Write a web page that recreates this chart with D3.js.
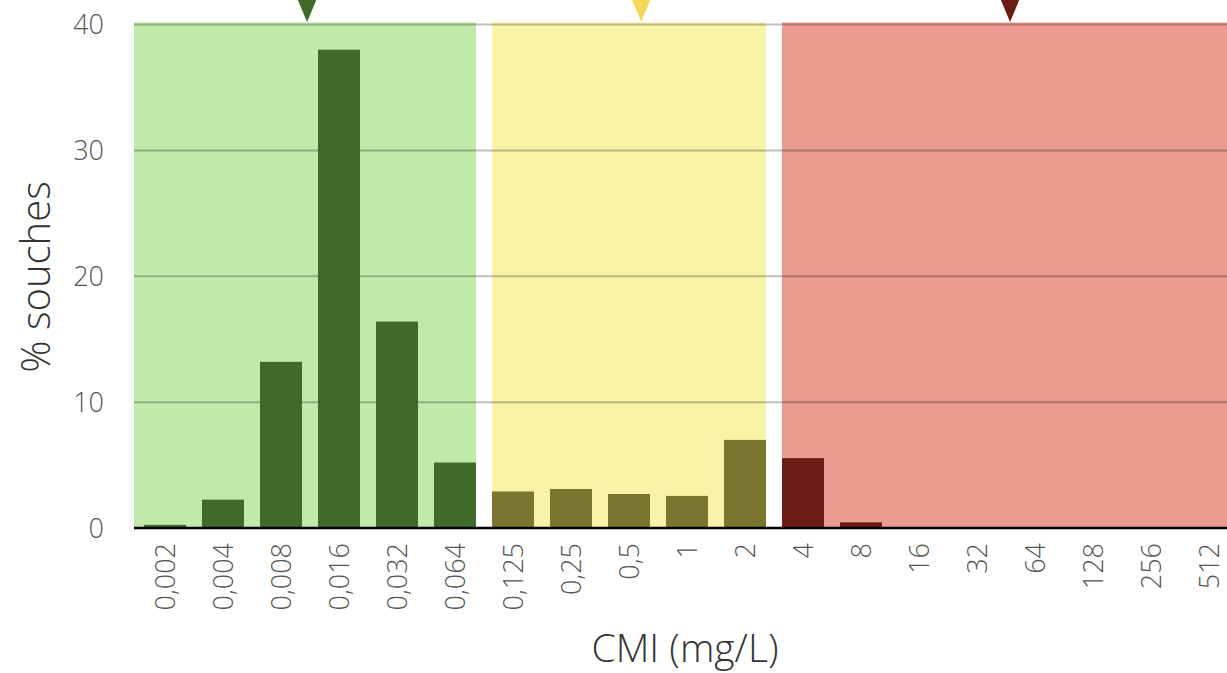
<!DOCTYPE html>
<html><head><meta charset="utf-8">
<script src="https://cdn.jsdelivr.net/npm/d3@7"></script>
<style>
html,body{margin:0;padding:0;background:#fff;overflow:hidden;}
text{font-family:"Open Sans","Liberation Sans",sans-serif;font-weight:300;}
</style></head>
<body><svg id="c" width="1227" height="673"></svg>
<script>
const categories = ["0,002","0,004","0,008","0,016","0,032","0,064","0,125","0,25","0,5","1","2","4","8","16","32","64","128","256","512"];
const values = [0.25,2.25,13.2,38.0,16.4,5.2,2.9,3.1,2.7,2.55,7.0,5.55,0.45,0,0,0,0,0,0];
const zones = [
  {name:"S", from:"0,002", to:"0,064", bg:"#c1e9a9", bar:"#3f6a2a", marker:"#3f6a2a", markerPos:2.45},
  {name:"I", from:"0,125", to:"2", bg:"#f9f3a8", bar:"#7a752f", marker:"#f7d95a", markerPos:8.21},
  {name:"R", from:"4", to:"512", bg:"#eb9b8f", bar:"#6b1c15", marker:"#6b1c15", markerPos:14.57}
];
const yTicks = [0,10,20,30,40];

const svg = d3.select("#c");
const x = d3.scaleBand().domain(categories).range([136, 1238]).paddingInner(0.276).paddingOuter(0.138);
const y = d3.scaleLinear().domain([0,40]).range([528, 24.5]);
const step = x.step();
const xi = d3.scaleLinear().domain([0,1]).range([x(categories[0])+x.bandwidth()/2, x(categories[0])+x.bandwidth()/2+step]);

const zoneOf = i => zones.find(z => i >= categories.indexOf(z.from) && i <= categories.indexOf(z.to));

svg.append("g").selectAll("rect").data(zones).join("rect")
  .attr("x", (d,i) => i===0 ? 134 : x(d.from))
  .attr("y", y(40)-2)
  .attr("width", (d,i) => x(d.to)+x.bandwidth() - (i===0 ? 134 : x(d.from)))
  .attr("height", y(0)-y(40)+2)
  .attr("fill", d => d.bg);

svg.append("g").selectAll("line").data(yTicks.filter(t=>t>0)).join("line")
  .attr("x1",134).attr("x2",1240)
  .attr("y1",d=>y(d)).attr("y2",d=>y(d))
  .attr("stroke","#000").attr("stroke-opacity",0.25).attr("stroke-width",2);

svg.append("g").selectAll("rect").data(categories).join("rect")
  .attr("x", d => x(d))
  .attr("y", (d,i) => y(values[i]))
  .attr("width", x.bandwidth())
  .attr("height", (d,i) => y(0)-y(values[i]))
  .attr("fill", (d,i) => zoneOf(i).bar);

svg.append("line").attr("x1",134).attr("x2",1240).attr("y1",y(0)).attr("y2",y(0))
  .attr("stroke","#000").attr("stroke-width",2.5);

svg.append("g").selectAll("text").data(yTicks).join("text")
  .attr("x",104).attr("y",d=>y(d)).attr("dy","0.36em")
  .attr("text-anchor","end").attr("font-size",27).attr("fill","#555")
  .text(d=>d);

svg.append("g").selectAll("text").data(categories).join("text")
  .attr("transform", d => `translate(${x(d)+x.bandwidth()/2},543) rotate(-90)`)
  .attr("dy","0.36em").attr("text-anchor","end")
  .attr("font-size",27).attr("fill","#555")
  .text(d=>d);

svg.append("g").selectAll("path").data(zones).join("path")
  .attr("d", d => { const cx = xi(d.markerPos); return `M${cx-10},-2 L${cx+10},-2 L${cx},22 Z`; })
  .attr("fill", d => d.marker);

svg.append("text").attr("x",685).attr("y",662).attr("text-anchor","middle")
  .attr("font-size",39).attr("fill","#333").text("CMI (mg/L)");
svg.append("text").attr("transform","translate(50,277) rotate(-90)")
  .attr("text-anchor","middle").attr("font-size",40).attr("fill","#333").text("% souches");
</script></body></html>
